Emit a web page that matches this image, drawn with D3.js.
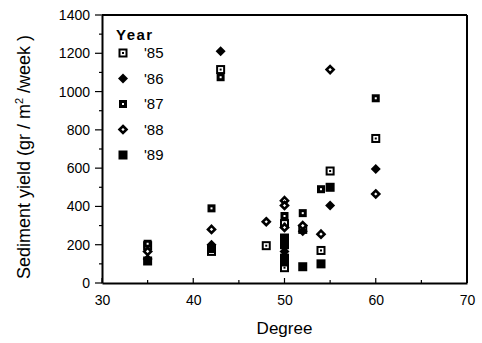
<!DOCTYPE html>
<html><head><meta charset="utf-8">
<script src="https://cdn.jsdelivr.net/npm/d3@7"></script>
<style>body{margin:0;background:#fff}svg{display:block}text{font-family:"Liberation Sans",Arial,sans-serif;fill:#000}</style>
</head><body><svg id="c" width="482" height="343"></svg>
<script>
const years = ["'85","'86","'87","'88","'89"];
const d85 = [[35,195],[42,165],[43,1115],[48,195],[50,80],[50,310],[52,280],[54,170],[55,585],[60,755]];
const d86 = [[35,125],[42,200],[43,1210],[50,165],[52,270],[55,405],[60,595]];
const d87 = [[35,205],[42,390],[43,1075],[50,350],[52,365],[54,490],[60,965]];
const d88 = [[35,165],[42,280],[48,320],[50,430],[50,405],[50,290],[52,300],[54,255],[55,1115],[60,465]];
const d89 = [[35,115],[42,180],[50,235],[50,200],[50,130],[50,110],[52,85],[54,100],[55,500]];
const series = [d85,d86,d87,d88,d89];
const xTicks = [30,40,50,60,70];
const yTicks = [0,200,400,600,800,1000,1200,1400];

const svg = d3.select("#c");
const L=102,R=467,T=15,B=283;
const x = d3.scaleLinear().domain([30,70]).range([L,R]);
const y = d3.scaleLinear().domain([0,1400]).range([B,T]);

// frame
svg.append("line").attr("x1",L).attr("x2",R).attr("y1",T).attr("y2",T).attr("stroke","#000").attr("stroke-width",2);
svg.append("line").attr("x1",R).attr("x2",R).attr("y1",T).attr("y2",B).attr("stroke","#000").attr("stroke-width",2);

// x axis
const xa = svg.append("g").attr("transform",`translate(0,${B})`);
xa.call(d3.axisBottom(x).tickValues(xTicks).tickSize(0).tickPadding(12).tickFormat(d3.format("d")));
xa.select(".domain").attr("stroke-width",2);
xa.selectAll("text").attr("font-size",14);
xa.selectAll(".mt").data(d3.range(30,71,5)).enter().append("line")
  .attr("x1",d=>x(d)).attr("x2",d=>x(d)).attr("y1",0).attr("y2",d=>d%10===0?-5:-3).attr("stroke","#000").attr("stroke-width",1.2);

// y axis
const ya = svg.append("g").attr("transform",`translate(${L},0)`);
ya.call(d3.axisLeft(y).tickValues(yTicks).tickSize(0).tickPadding(12).tickFormat(d3.format("d")));
ya.select(".domain").attr("stroke-width",2);
ya.selectAll("text").attr("font-size",14);
ya.selectAll(".mt").data(d3.range(0,1401,100)).enter().append("line")
  .attr("y1",d=>y(d)).attr("y2",d=>y(d)).attr("x1",0).attr("x2",d=>d%200===0?-7:-3).attr("stroke","#000").attr("stroke-width",1.2);

// titles
svg.append("text").attr("x",(L+R)/2).attr("y",334).attr("text-anchor","middle").attr("font-size",17).text("Degree");
const yt = svg.append("text").attr("transform","translate(30,157) rotate(-90)").attr("text-anchor","middle").attr("font-size",18);
yt.append("tspan").text("Sediment yield (gr / m");
yt.append("tspan").attr("font-size",11).attr("dy",-7).text("2");
yt.append("tspan").attr("dy",7).text(" /week )");

// symbols
function drawSym(g, i){
  if(i===0){
    g.append("rect").attr("x",-3.5).attr("y",-3.5).attr("width",7).attr("height",7).attr("fill","#fff").attr("stroke","#000").attr("stroke-width",2);
    g.append("rect").attr("x",-1).attr("y",-1).attr("width",2).attr("height",2).attr("fill","#000");
  } else if(i===1){
    g.append("path").attr("d","M0,-5L5,0L0,5L-5,0Z").attr("fill","#000");
  } else if(i===2){
    g.append("rect").attr("x",-4).attr("y",-4).attr("width",8).attr("height",8).attr("fill","#000");
    g.append("rect").attr("x",-1).attr("y",-1).attr("width",2).attr("height",2).attr("fill","#fff");
  } else if(i===3){
    g.append("path").attr("d","M0,-3.5L3.5,0L0,3.5L-3.5,0Z").attr("fill","#fff").attr("stroke","#000").attr("stroke-width",2.6);
  } else {
    g.append("rect").attr("x",-4.5).attr("y",-4.5).attr("width",9).attr("height",9).attr("fill","#000");
  }
}
series.forEach((s,i)=>{
  svg.append("g").selectAll("g").data(s).enter().append("g")
    .attr("transform",d=>`translate(${x(d[0])},${y(d[1])})`)
    .each(function(){drawSym(d3.select(this),i);});
});

// legend
svg.append("text").attr("x",116).attr("y",40).attr("font-size",15).attr("font-weight","bold").attr("letter-spacing",1.5).text("Year");
years.forEach((yr,i)=>{
  const cy = 53 + i*25.5;
  const g = svg.append("g").attr("transform",`translate(123,${cy})`);
  drawSym(g,i);
  svg.append("text").attr("x",144).attr("y",cy+5).attr("font-size",15).text(yr);
});
</script></body></html>
